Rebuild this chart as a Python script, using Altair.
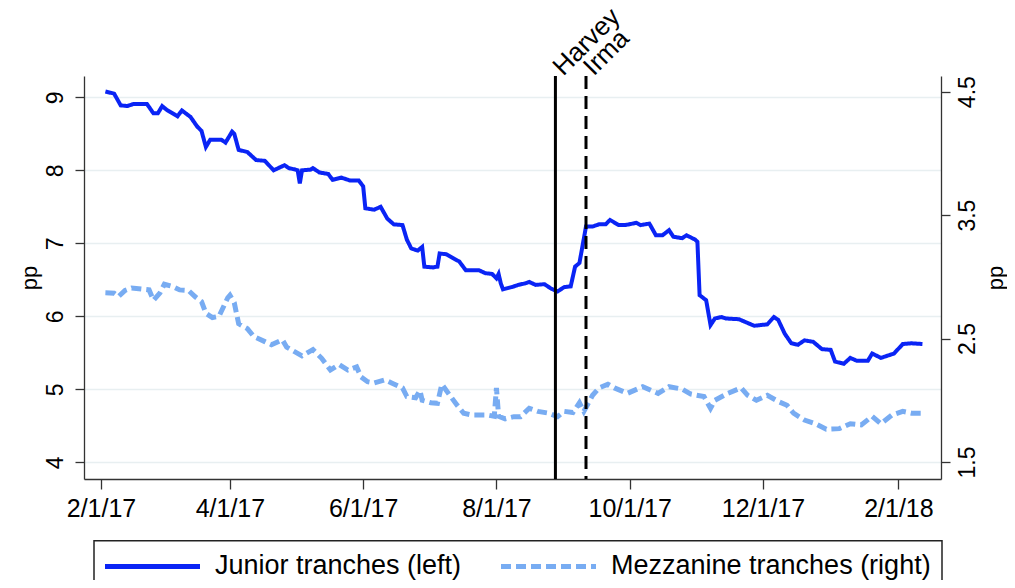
import altair as alt
import pandas as pd

series_names = ["Junior tranches (left)", "Mezzanine tranches (right)"]
series_colors = ["#0a24f5", "#78acf2"]

# days since 2017-02-01 and spread values (pp)
junior_days = [2, 6, 9, 12, 15, 21, 24, 26, 28, 30, 35, 37, 41, 44, 46, 48, 50, 55, 57, 60,
               61, 63, 67, 71, 75, 79, 84, 86, 89, 90, 91, 92, 96, 97, 100, 104, 106, 110, 114, 118,
               120, 121, 125, 128, 131, 134, 138, 140, 142, 145, 147, 148, 152, 154, 155, 158, 164, 167, 173, 176,
               179, 181, 182, 183, 184, 188, 191, 194, 196, 199, 203, 206, 209, 212, 215, 217, 219, 222, 225, 228,
               231, 233, 237, 240, 245, 247, 251, 254, 257, 260, 262, 266, 268, 272, 273, 274, 277, 279, 281, 284,
               286, 292, 299, 305, 308, 310, 313, 316, 319, 322, 326, 330, 334, 336, 340, 343, 346, 351, 353, 357,
               363, 367, 371, 376]
junior_pp = [9.08, 9.05, 8.89, 8.88, 8.91, 8.91, 8.78, 8.78, 8.88, 8.83, 8.74, 8.82, 8.73, 8.60, 8.54, 8.32, 8.42, 8.42, 8.38, 8.53,
             8.50, 8.28, 8.25, 8.14, 8.13, 8.00, 8.07, 8.03, 8.01, 8.00, 7.82, 8.00, 8.01, 8.03, 7.97, 7.95, 7.87, 7.90, 7.86, 7.86,
             7.78, 7.48, 7.46, 7.50, 7.34, 7.26, 7.25, 7.05, 6.93, 6.90, 6.95, 6.68, 6.67, 6.68, 6.86, 6.85, 6.75, 6.63, 6.63, 6.59,
             6.58, 6.52, 6.58, 6.45, 6.37, 6.40, 6.43, 6.45, 6.47, 6.43, 6.44, 6.38, 6.34, 6.40, 6.41, 6.68, 6.73, 7.23, 7.23, 7.26,
             7.26, 7.32, 7.25, 7.25, 7.28, 7.25, 7.27, 7.11, 7.11, 7.18, 7.09, 7.07, 7.11, 7.05, 7.02, 6.29, 6.22, 5.88, 5.97, 5.99,
             5.97, 5.96, 5.87, 5.89, 5.99, 5.95, 5.76, 5.63, 5.61, 5.67, 5.65, 5.55, 5.54, 5.38, 5.35, 5.43, 5.39, 5.39, 5.49, 5.43,
             5.49, 5.62, 5.63, 5.62]

mezz_days = [2, 6, 8, 11, 14, 19, 22, 24, 27, 29, 33, 36, 40, 43, 46, 48, 51, 54, 58, 59,
             61, 63, 67, 70, 75, 78, 83, 85, 89, 92, 95, 97, 101, 105, 109, 113, 117, 119, 122, 125,
             130, 133, 138, 140, 144, 146, 147, 151, 154, 156, 159, 163, 166, 170, 173, 177, 180, 181, 182, 185,
             189, 192, 196, 200, 205, 209, 212, 216, 219, 221, 225, 228, 232, 235, 241, 248, 255, 260, 266, 270,
             276, 279, 281, 287, 293, 296, 300, 305, 310, 314, 317, 322, 327, 332, 338, 343, 348, 353, 357, 362,
             367, 371, 376]
mezz_pp = [2.87, 2.867, 2.84, 2.89, 2.91, 2.90, 2.894, 2.81, 2.87, 2.94, 2.92, 2.894, 2.89, 2.84, 2.80, 2.705, 2.67, 2.68, 2.83, 2.85,
           2.79, 2.62, 2.58, 2.515, 2.475, 2.45, 2.49, 2.43, 2.39, 2.36, 2.39, 2.41, 2.34, 2.245, 2.29, 2.245, 2.27, 2.19, 2.15, 2.14,
           2.165, 2.14, 2.10, 2.03, 2.02, 2.08, 2.00, 1.98, 1.975, 2.13, 2.056, 1.96, 1.895, 1.88, 1.88, 1.88, 1.87, 2.10, 1.87, 1.85,
           1.867, 1.867, 1.935, 1.91, 1.895, 1.867, 1.91, 1.90, 1.98, 1.91, 2.04, 2.10, 2.13, 2.10, 2.056, 2.11, 2.056, 2.11, 2.09, 2.05,
           2.03, 1.935, 2.00, 2.056, 2.10, 2.04, 2.00, 2.04, 1.99, 1.96, 1.895, 1.84, 1.81, 1.765, 1.77, 1.81, 1.80, 1.87, 1.81, 1.88,
           1.91, 1.895, 1.895]

event_names = ["Harvey", "Irma"]
event_dates = ["2017-08-28", "2017-09-11"]

x_tick_dates = ["2017-02-01", "2017-04-01", "2017-06-01", "2017-08-01",
                "2017-10-01", "2017-12-01", "2018-02-01"]
left_ticks = [4, 5, 6, 7, 8, 9]
right_ticks = [1.5, 2.5, 3.5, 4.5]

base_date = pd.Timestamp("2017-02-01")


def to_dates(days):
    return [(base_date + pd.Timedelta(days=d)).strftime("%Y-%m-%d") for d in days]


def dt(s, hours=0):
    t = pd.Timestamp(s)
    return alt.DateTime(year=t.year, month=t.month, date=t.day, hours=hours, utc=True)


junior = pd.DataFrame({"date": to_dates(junior_days), "pp": junior_pp, "series": series_names[0]})
mezz = pd.DataFrame({"date": to_dates(mezz_days), "pp": mezz_pp, "series": series_names[1]})
events = pd.DataFrame({"date": event_dates, "event": event_names})

FONT = "Liberation Sans"

x_enc = alt.X(
    "date:T",
    scale=alt.Scale(type="utc", domain=[dt("2017-01-24", 5), dt("2018-02-20", 12)], nice=False),
    axis=alt.Axis(values=[dt(s) for s in x_tick_dates],
                  labelExpr="utcFormat(datum.value, '%-m/%-d/%y')",
                  title=None, grid=False, tickSize=10, labelPadding=7,
                  labelFontSize=25),
)

legend = alt.Legend(
    title=None, orient="none", legendX=10, legendY=464.7, direction="horizontal", columns=2,
    columnPadding=29, symbolType="M-4,0H4", symbolSize=564, symbolStrokeWidth=5,
    symbolOffset=33, labelOffset=48, labelFont=FONT, labelFontSize=27, labelColor="black",
    labelLimit=600, padding=11, strokeColor="#222222",
)

color_enc = alt.Color("series:N", scale=alt.Scale(domain=series_names, range=series_colors), legend=legend)
dash_enc = alt.StrokeDash("series:N", scale=alt.Scale(domain=series_names, range=[[1, 0], [10, 5]]), legend=legend)

junior_line = alt.Chart(junior).mark_line(strokeWidth=4).encode(
    x=x_enc,
    y=alt.Y("pp:Q", scale=alt.Scale(domain=[3.771, 9.292], nice=False, zero=False),
            axis=alt.Axis(orient="left", values=left_ticks, format="d", title="pp", grid=True,
                          gridColor="#e8eff1", gridWidth=1.6,
                          labelAngle=270, labelAlign="center", labelBaseline="alphabetic",
                          labelPadding=13, tickSize=9, labelFontSize=23,
                          titleAngle=270, titleX=-48, titleY=201.5, titleAlign="center",
                          titleBaseline="alphabetic", titleFontSize=22)),
    color=color_enc,
    strokeDash=dash_enc,
)

mezz_line = alt.Chart(mezz).mark_line(strokeWidth=5).encode(
    x=x_enc,
    y=alt.Y("pp:Q", scale=alt.Scale(domain=[1.362, 4.627], nice=False, zero=False),
            axis=alt.Axis(orient="right", values=right_ticks, format=".1f", title="pp", grid=False,
                          labelAngle=270, labelAlign="center", labelBaseline="alphabetic",
                          labelPadding=24, tickSize=9, labelFontSize=23,
                          titleAngle=270, titleX=61, titleY=201.5, titleAlign="center",
                          titleBaseline="alphabetic", titleFontSize=22)),
    color=color_enc,
    strokeDash=dash_enc,
)

rules = alt.Chart(events).mark_rule(color="black", strokeWidth=3).encode(
    x=x_enc,
    strokeDash=alt.condition("datum.event == 'Irma'", alt.value([13, 7]), alt.value([1, 0])),
)

labels = alt.Chart(events).mark_text(
    font=FONT, fontSize=26, angle=315, align="left", baseline="alphabetic", color="black", dx=5, dy=6
).encode(
    x=x_enc,
    y=alt.value(0),
    text="event:N",
)

chart = alt.layer(junior_line, mezz_line, rules, labels).resolve_scale(
    y="independent"
).properties(
    width=857, height=403,
    padding={"left": 76, "top": 68, "right": 66, "bottom": 101},
    autosize="none",
).configure_view(
    strokeWidth=0
).configure_axis(
    labelFont=FONT, titleFont=FONT, labelColor="black", titleColor="black",
    titleFontWeight="normal", domainColor="#333333", domainWidth=1.3,
    tickColor="#333333", tickWidth=1.3,
).configure_legend(
    strokeWidth=1.5
)

chart.save("out.html", embed_options={"renderer": "svg", "actions": False})
